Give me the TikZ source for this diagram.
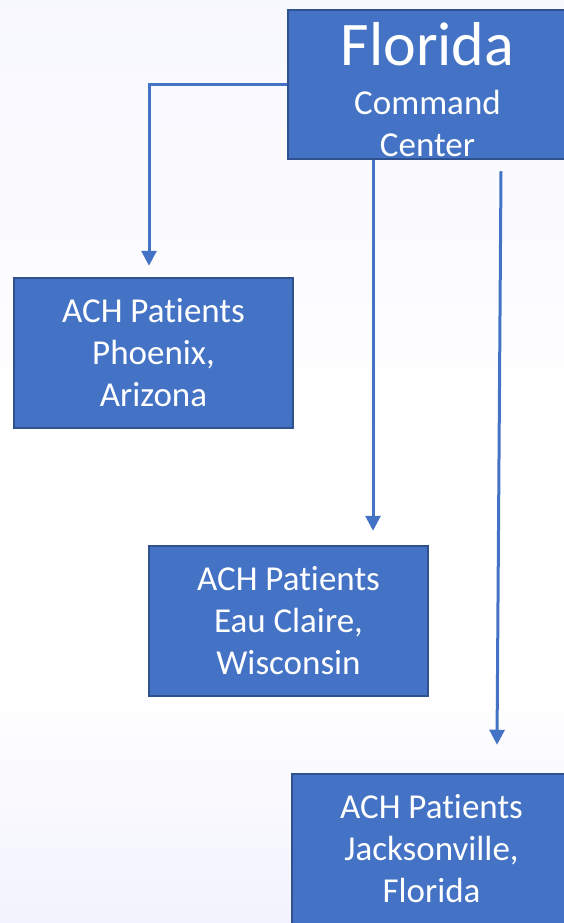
\documentclass[tikz,border=0pt]{standalone}
\usepackage{fontspec}
\setmainfont[Ligatures={NoCommon}]{Carlito}
\usetikzlibrary{arrows.meta,positioning,calc}
\definecolor{azul}{HTML}{4472C4}
\definecolor{borde}{HTML}{2F528F}
\tikzset{
  caja/.style={
    rectangle, draw=borde, fill=azul, line width=2.5pt, text=white,
    align=center, minimum width=279pt, minimum height=150pt,
    inner sep=0pt, font=\fontsize{35}{42}\selectfont},
  texto/.style={text=white, align=center, inner sep=0pt,
    font=\fontsize{35}{42}\selectfont},
  flecha/.style={-{Triangle[length=15pt,width=15pt]}, draw=azul, line width=3pt}
}
\begin{document}
\begin{tikzpicture}[x=1pt,y=-1pt]

\useasboundingbox (0,0) rectangle (564,923);
\clip (0,0) rectangle (564,923);

% fondo
\shade[top color=black!7!blue!3!white, bottom color=white] (0,0) rectangle (564,450);
\fill[white] (0,450) rectangle (564,690);
\shade[top color=white, bottom color=black!10!blue!5!white] (0,690) rectangle (564,923);

\node[caja, minimum height=149pt] (florida) at (427.5,84.5) {};
\node[texto] (floridatxt) at ([yshift=-5.5pt]florida.center) {%
  {\fontsize{62}{62}\selectfont Florida}\\[7pt]
  Command\\
  Center
};

\node[caja] (phoenix) at (153.5,353) {ACH Patients\\ Phoenix,\\ Arizona};

\node[caja] (eauclaire) at (288.5,621) {ACH Patients\\ Eau Claire,\\ Wisconsin};

\node[caja] (jax) at (431.5,849) {ACH Patients\\ Jacksonville,\\ Florida};

% Florida -> Phoenix
\draw[flecha] (florida.west) -| ([xshift=-4.5pt,yshift=11pt]phoenix.north);

% Florida -> Eau Claire
\draw[flecha] ([xshift=-54.5pt]florida.south) -- ([xshift=84.5pt,yshift=14pt]eauclaire.north);

% Florida -> Jacksonville
\draw[flecha] ([xshift=73.5pt,yshift=-11pt]florida.south) -- ([xshift=65.5pt,yshift=28pt]jax.north);

\end{tikzpicture}
\end{document}
